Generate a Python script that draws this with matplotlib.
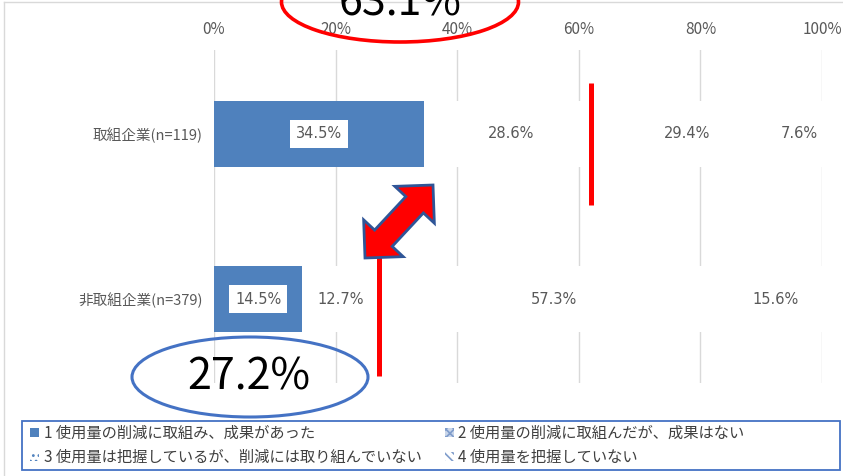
import matplotlib
matplotlib.use('Agg')
import matplotlib.pyplot as plt
from matplotlib.patches import Ellipse, Polygon, Patch, Rectangle
from matplotlib.lines import Line2D
import numpy as np

plt.rcParams['font.family'] = ['Noto Sans CJK JP', 'DejaVu Sans']
plt.rcParams['hatch.linewidth'] = 1.2

# ---- data ----
categories = ['取組企業(n=119)', '非取組企業(n=379)']
series_names = ['1 使用量の削減に取組み、成果があった',
                '2 使用量の削減に取組んだが、成果はない',
                '3 使用量は把握しているが、削減には取り組んでいない',
                '4 使用量を把握していない']
s1 = [34.5, 14.5]
s2 = [28.6, 12.7]
s3 = [29.4, 57.3]
s4 = [7.6, 15.6]
xticks = [0, 20, 40, 60, 80, 100]
xtick_labels = ['0%', '20%', '40%', '60%', '80%', '100%']
callout_top = '63.1%'
callout_bottom = '27.2%'

# ---- layout helpers (pixel -> figure fraction) ----
W, H = 843, 476
fig = plt.figure(figsize=(W / 100, H / 100), dpi=100)


def fx(x):
    return x / W


def fy(y):
    return 1 - y / H


TEXT = '#595959'
BLUE = '#4F81BD'

ax = fig.add_axes([fx(214), fy(383), (822 - 214) / W, (383 - 50) / H])
ypos = np.arange(len(categories))
series = [s1, s2, s3, s4]
faces = [BLUE, 'white', 'white', 'white']
left = np.zeros(len(categories))
for vals, fc, name in zip(series, faces, series_names):
    vals = np.array(vals)
    ax.barh(ypos, vals, left=left, height=0.395, color=fc, edgecolor='none',
            label=name, zorder=2)
    for yi, (l, v) in enumerate(zip(left, vals)):
        pad = 0.42 if fc == BLUE else 0.15
        ax.text(l + v / 2, yi, f'{v:.1f}%', ha='center', va='center',
                fontsize=10.5, color=TEXT, zorder=4, family='DejaVu Sans',
                bbox=dict(boxstyle=f'square,pad={pad}', fc='white', ec='none'))
    left = left + vals

ax.set_xlim(0, 100)
ax.set_ylim(1.509, -0.509)
ax.xaxis.tick_top()
ax.set_xticks(xticks, xtick_labels)
ax.set_yticks(ypos, categories)
ax.tick_params(axis='x', length=0, pad=9, labelsize=11, labelcolor=TEXT)
ax.tick_params(axis='y', length=0, pad=8, labelsize=10.5, labelcolor=TEXT)
ax.xaxis.grid(True, color='#D9D9D9', lw=1)
ax.set_axisbelow(True)
for s in ax.spines.values():
    s.set_visible(False)

# ---- outer chart border ----
fig.add_artist(Line2D([fx(4), fx(4)], [fy(2), fy(480)], color='#D9D9D9', lw=1,
                      transform=fig.transFigure))
fig.add_artist(Line2D([fx(4), fx(850)], [fy(2), fy(2)], color='#D9D9D9', lw=1,
                      transform=fig.transFigure))

# ---- legend ----
h1 = Patch(facecolor=BLUE, edgecolor=BLUE, lw=0)
h2 = Patch(facecolor='#C9D6EA', edgecolor='#7F9CCB', hatch='xxxx', lw=0)
h3 = Patch(facecolor='white', edgecolor='#4F81BD', hatch='...', lw=0)
h4 = Patch(facecolor='white', edgecolor='#7F9CCB', hatch='\\\\\\\\', lw=0)
leg = fig.legend([h1, h3, h2, h4],
                 [series_names[0], series_names[2], series_names[1], series_names[3]],
                 ncol=2, loc='upper left', bbox_to_anchor=(fx(30), fy(425)),
                 borderaxespad=0, frameon=False, fontsize=11,
                 handlelength=0.6, handleheight=0.6, handletextpad=0.3,
                 labelspacing=0.45, borderpad=0.0, columnspacing=1.5)
for t in leg.get_texts():
    t.set_color('#404040')
fig.add_artist(Rectangle((fx(22), fy(470)), (840 - 22) / W, 49 / H,
                         transform=fig.transFigure, fill=False,
                         edgecolor='#4472C4', lw=1.3))

# ---- annotations ----
fig.add_artist(Line2D([fx(591), fx(591)], [fy(83), fy(205)], color='red', lw=3.6,
                      transform=fig.transFigure, solid_capstyle='butt'))
fig.add_artist(Line2D([fx(379), fx(379)], [fy(250), fy(376)], color='red', lw=3.6,
                      transform=fig.transFigure, solid_capstyle='butt'))


def block_arrow(p1, p2, shaft_hw, head_hw, head_len):
    p1 = np.array(p1, float)
    p2 = np.array(p2, float)
    d = p2 - p1
    u = d / np.hypot(*d)
    n = np.array([-u[1], u[0]])
    a = p1 + u * head_len
    b = p2 - u * head_len
    pts = [p1, a + n * head_hw, a + n * shaft_hw, b + n * shaft_hw, b + n * head_hw,
           p2, b - n * head_hw, b - n * shaft_hw, a - n * shaft_hw, a - n * head_hw]
    return [(fx(x), fy(y)) for x, y in pts]


fig.add_artist(Polygon(block_arrow((365, 258), (433, 185), 12, 27, 27),
                       closed=True, facecolor='red', edgecolor='#2F5597', lw=2,
                       transform=fig.transFigure, zorder=3))

fig.add_artist(Ellipse((fx(400), fy(2)), 237 / W, 80 / H, transform=fig.transFigure,
                       fill=False, edgecolor='red', lw=2.6, zorder=3))
fig.add_artist(Ellipse((fx(250), fy(377)), 236 / W, 80 / H, transform=fig.transFigure,
                       fill=False, edgecolor='#4472C4', lw=2.2, zorder=3))
fig.text(fx(400), fy(15), callout_top, ha='center', va='baseline', fontsize=31,
         color='black')
fig.text(fx(249), fy(390), callout_bottom, ha='center', va='baseline', fontsize=31,
         color='black')

fig.savefig('out.png', dpi=100)
